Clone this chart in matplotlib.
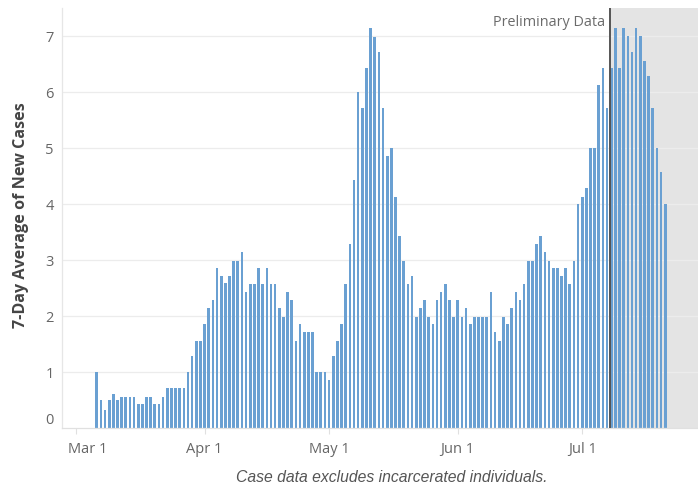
import matplotlib
matplotlib.use("Agg")
import matplotlib.pyplot as plt
import matplotlib.dates as mdates
import matplotlib.transforms as mtransforms
import pandas as pd
import numpy as np

# ---- data ----
start_date = "2020-03-06"
values = [
    1.00, 0.50, 0.33, 0.50, 0.61, 0.50, 0.56, 0.56, 0.56, 0.56,
    0.43, 0.43, 0.56, 0.56, 0.43, 0.43, 0.56, 0.72, 0.72, 0.72,
    0.72, 0.72, 1.00, 1.28, 1.56, 1.56, 1.86, 2.15, 2.28, 2.85,
    2.71, 2.59, 2.71, 2.98, 2.98, 3.14, 2.43, 2.57, 2.57, 2.86,
    2.57, 2.86, 2.57, 2.57, 2.15, 1.99, 2.43, 2.28, 1.56, 1.86,
    1.71, 1.71, 1.71, 1.00, 1.00, 1.00, 0.86, 1.28, 1.56, 1.86,
    2.57, 3.29, 4.42, 6.00, 5.72, 6.43, 7.15, 6.99, 6.71, 5.72,
    4.85, 5.00, 4.13, 3.42, 2.99, 2.57, 2.71, 1.99, 2.15, 2.28,
    1.99, 1.86, 2.28, 2.43, 2.57, 2.28, 1.99, 2.28, 1.99, 2.15,
    1.86, 1.99, 1.99, 1.99, 1.99, 2.43, 1.71, 1.56, 1.99, 1.86,
    2.15, 2.43, 2.28, 2.57, 2.99, 2.99, 3.28, 3.42, 3.14, 2.99,
    2.86, 2.86, 2.71, 2.86, 2.57, 2.99, 4.00, 4.13, 4.28, 5.00,
    5.00, 6.13, 6.43, 5.72, 6.43, 7.15, 6.43, 7.15, 7.00, 6.71,
    7.15, 7.00, 6.56, 6.28, 5.72, 5.00, 4.57, 4.00,
]
dates = pd.date_range(start_date, periods=len(values), freq="D")
tick_dates = pd.to_datetime(["2020-03-01", "2020-04-01", "2020-05-01", "2020-06-01", "2020-07-01"])
tick_labels = ["Mar 1", "Apr 1", "May 1", "Jun 1", "Jul 1"]
y_ticks = [0, 1, 2, 3, 4, 5, 6, 7]
prelim_date = pd.Timestamp("2020-07-08")
prelim_label = "Preliminary Data"
y_label = "7-Day Average of New Cases"
caption = "Case data excludes incarcerated individuals."

# ---- figure ----
fig = plt.figure(figsize=(6.98, 4.87), dpi=100)
W, H = 698, 487
ax_left, ax_right, ax_top, ax_bottom = 62, 698, 8, 428
ax = fig.add_axes([ax_left / W, (H - ax_bottom) / H, (ax_right - ax_left) / W, (ax_bottom - ax_top) / H])

base = mdates.date2num(pd.Timestamp("2020-03-01"))
ax.set_xlim(base - 3.37, base + 149.9)
ax.set_ylim(0, 7.5)

# shaded preliminary region
px = mdates.date2num(prelim_date) - 0.3
ax.axvspan(px, base + 200, color="#e4e4e4", zorder=0, lw=0)

# gridlines
for yv in y_ticks[1:]:
    ax.axhline(yv, color="#ececec", lw=0.9, zorder=0.5)

ax.bar(mdates.date2num(dates), values, width=0.64, color="#6aa0d2",
       edgecolor="none", linewidth=0, zorder=2)

ax.axvline(px, color="#555555", lw=1.4, zorder=3)
ax.text(px - 1.2, 7.25, prelim_label, ha="right", va="center",
        fontsize=10.4, color="#6b6b6b", family="Open Sans", zorder=4)

# axes styling
for s in ["top", "right"]:
    ax.spines[s].set_visible(False)
ax.spines["left"].set_color("#e6e6e6")
ax.spines["left"].set_linewidth(0.9)
ax.spines["bottom"].set_color("#e0e0e0")
ax.spines["bottom"].set_linewidth(0.9)

ax.set_yticks(y_ticks)
ax.set_yticklabels([str(v) for v in y_ticks], fontsize=10.5, color="#666666", family="Open Sans")
ax.tick_params(axis="y", length=0, pad=6)

ax.set_xticks(mdates.date2num(tick_dates))
ax.set_xticklabels(tick_labels, fontsize=10.5, color="#666666", family="Open Sans")
ax.tick_params(axis="x", length=4, color="#e0e0e0", width=0.8, pad=6)

# shift the edge labels like the reference
for lbl in ax.get_yticklabels():
    if lbl.get_text() == "0":
        lbl.set_transform(lbl.get_transform() + mtransforms.ScaledTranslation(0, 10 / 100, fig.dpi_scale_trans))
for lbl in ax.get_xticklabels():
    if lbl.get_text() == "Mar 1":
        lbl.set_transform(lbl.get_transform() + mtransforms.ScaledTranslation(12 / 100, 0, fig.dpi_scale_trans))

fig.text(21 / W, 1 - 215 / H, y_label, rotation=90, ha="center", va="center",
         fontsize=11.6, fontweight="bold", color="#454545", family="Open Sans")

fig.text(392 / W, 1 - 477 / H, caption, ha="center", va="center",
         fontsize=11.3, style="italic", color="#555555", family="Liberation Sans")

fig.savefig("out.png", dpi=100, facecolor="white")
